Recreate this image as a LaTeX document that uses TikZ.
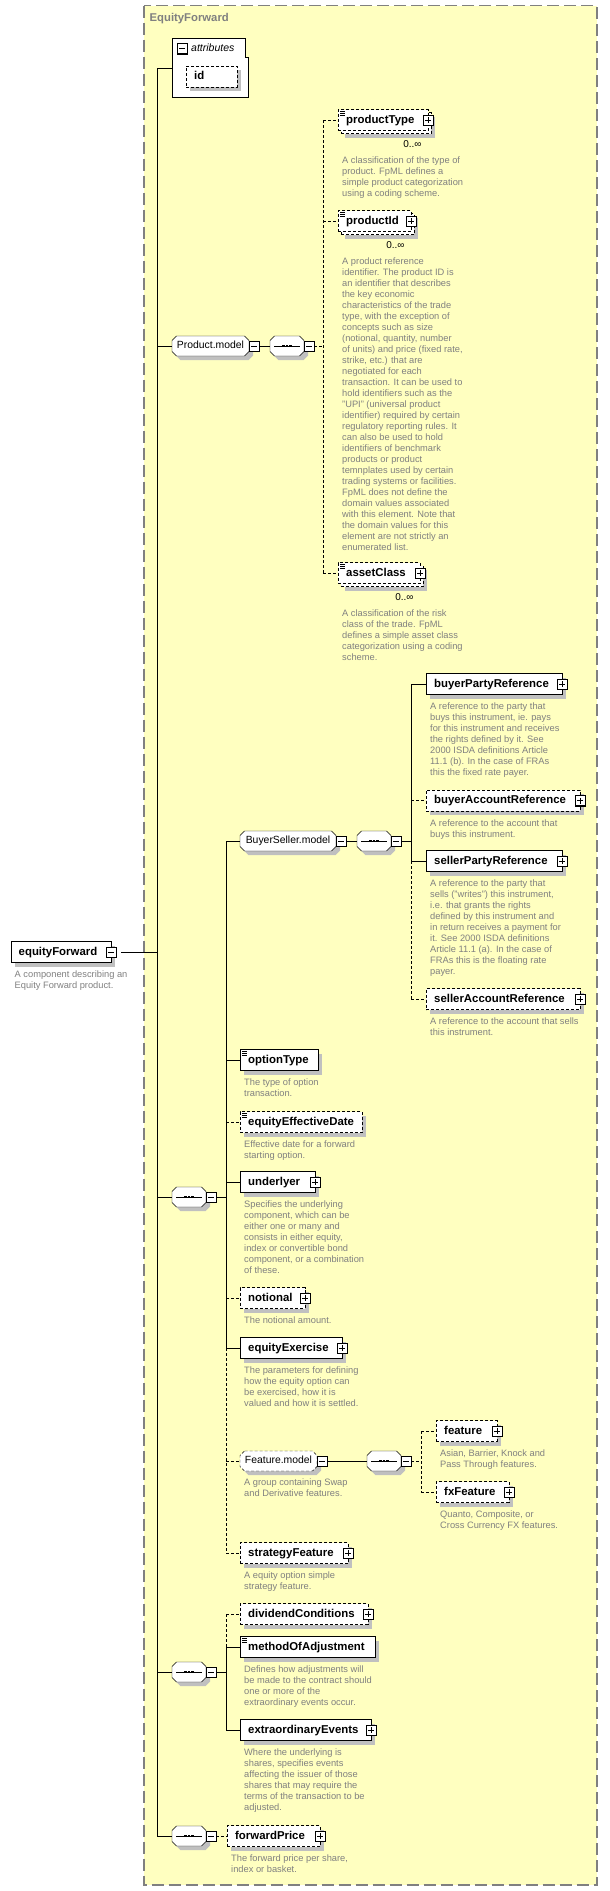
\documentclass[tikz,border=0pt]{standalone}
\usepackage{fontspec}
\setmainfont{Liberation Sans}
\usetikzlibrary{shadows}

\definecolor{bgyellow}{RGB}{255,255,192}
\definecolor{framegray}{RGB}{128,128,128}
\definecolor{shadowgray}{RGB}{192,192,192}
\definecolor{descgray}{RGB}{128,128,128}

\pgfdeclarelayer{back}
\pgfdeclarelayer{shapes}
\pgfsetlayers{back,shapes,main}

\tikzset{
	opt/.style={dash pattern=on 3pt off 2pt},
	shade4/.style={drop shadow={shadow xshift=4pt,shadow yshift=-4pt,fill=shadowgray,opacity=1}},
	multi/.style={drop shadow={shadow xshift=7pt,shadow yshift=-7pt,fill=shadowgray,opacity=1},
		general shadow={shadow xshift=3pt,shadow yshift=-3pt,fill=white,draw=black,dash pattern=on 3pt off 2pt}},
	ebase/.style={draw, fill=white, anchor=west, minimum height=21pt, inner xsep=8pt, inner ysep=0pt,
		text width=#1, align=left, text height=8.5pt, text depth=2.5pt,
		font=\bfseries\fontsize{11.4}{13}\selectfont},
	elem/.style={ebase=#1, shade4},
	melem/.style={ebase=#1, multi},
	simple/.style={path picture={
		\foreach \k in {2,4,6} \draw[solid,line width=0.6pt] ([shift={(2,\k)}]path picture bounding box.north west) -- ++(5,0);}},
	model/.style={anchor=west, minimum width=#1, minimum height=20pt, inner sep=0pt, outer sep=0pt,
		text height=7.5pt, text depth=2pt, font=\fontsize{10.4}{12}\selectfont},
	seq/.style={model=34pt},
	desc/.style={anchor=north west, align=left, inner sep=0pt, text=descgray, font=\fontsize{9.3}{11}\selectfont},
	card/.style={inner sep=0pt, font=\fontsize{10}{12}\selectfont},
	pics/plusbox/.style={code={
		\draw[solid,fill=white] (-5,-5) rectangle (5,5);
		\draw[solid,line width=1.3pt] (5.4,-5) -- (5.4,5.4) -- (-5,5.4);
		\draw[solid] (-3,0) -- (3,0) (0,-3) -- (0,3);}},
	pics/minusbox/.style={code={
		\draw[solid,fill=white] (-5,-5) rectangle (5,5);
		\draw[solid,line width=1.3pt] (5.4,-5) -- (5.4,5.4) -- (-5,5.4);
		\draw[solid] (-3,0) -- (3,0);}}
}

\newcommand{\chambox}[2][]{%
	\begin{pgfonlayer}{shapes}
		\draw[fill=white, shade4, #1] ([xshift=4.5pt]#2.north west) -- ([xshift=-4.5pt]#2.north east)
			-- ([yshift=-4.5pt]#2.north east) -- ([yshift=4.5pt]#2.south east) -- ([xshift=-4.5pt]#2.south east)
			-- ([xshift=4.5pt]#2.south west) -- ([yshift=4.5pt]#2.south west) -- ([yshift=-4.5pt]#2.north west) -- cycle;
	\end{pgfonlayer}}
\newcommand{\seqbar}[1]{%
	\draw ([xshift=4pt]#1.west) -- ([xshift=-4pt]#1.east);
	\foreach \d in {-3.5,0,3.5} \fill ([xshift=\d pt]#1.center) +(-1.2,-1.2) rectangle +(1.2,1.2);}

\begin{document}
\begin{tikzpicture}[x=1pt,y=-1pt,line width=0.9pt]
	\useasboundingbox (0,0) rectangle (610,1891);
	
	\begin{pgfonlayer}{back}
		\draw[framegray, fill=bgyellow, line width=1.2pt, dash pattern=on 12pt off 5pt] (144,5.5) rectangle (597,1885);
	\end{pgfonlayer}
	\node[anchor=west, inner sep=0pt, text=framegray, font=\bfseries\fontsize{11.3}{13}\selectfont] (title) at (149.5,19) {EquityForward};
	
	\draw[fill=white] (172,38) -- (245,38) -- (245,57) -- (248,57) -- (248,97) -- (172,97) -- cycle;
	\pic at (182,48.5) {minusbox};
	\node[anchor=west, inner sep=0pt, font=\itshape\fontsize{10.5}{12}\selectfont] (attrlabel) at (191,48) {attributes};
	\node[elem=35pt, opt] (id) at (186,76.5) {id};
	\coordinate (attrs) at (172,68);
	\coordinate (trunk) at (157,0);
	
	\node[elem=84.5pt] (ef) at (10.5,952) {equityForward}; \pic at (ef.east) {minusbox};
	\node[desc] (efdesc) at ([xshift=4pt,yshift=-8pt]ef.south west) {A component describing an\\Equity Forward product.};
	
	\node[model=77pt] (pmodel) at (172,346) {Product.model}; \chambox{pmodel}; \pic at ([xshift=5pt]pmodel.east) {minusbox};
	\node[seq] (seqP) at (270,346) {}; \chambox{seqP}; \seqbar{seqP}; \pic at ([xshift=5pt]seqP.east) {minusbox};
	
	\node[melem=74pt, opt, simple] (ptype) at (338,120) {productType}; \pic at (ptype.east) {plusbox};
	\node[card] (ptypecard) at ([xshift=-16pt,yshift=-13.5pt]ptype.south east) {0..∞};
	\node[desc] (ptypedesc) at ([xshift=4pt,yshift=-25.5pt]ptype.south west) {A classification of the type of\\product. FpML defines a\\simple product categorization\\using a coding scheme.};
	
	\node[melem=57pt, opt, simple] (pid) at (338,221) {productId}; \pic at (pid.east) {plusbox};
	\node[card] (pidcard) at ([xshift=-16pt,yshift=-13.5pt]pid.south east) {0..∞};
	\node[desc] (piddesc) at ([xshift=4pt,yshift=-25.5pt]pid.south west) {A product reference\\identifier. The product ID is\\an identifier that describes\\the key economic\\characteristics of the trade\\type, with the exception of\\concepts such as size\\(notional, quantity, number\\of units) and price (fixed rate,\\strike, etc.) that are\\negotiated for each\\transaction. It can be used to\\hold identifiers such as the\\"UPI" (universal product\\identifier) required by certain\\regulatory reporting rules. It\\can also be used to hold\\identifiers of benchmark\\products or product\\temnplates used by certain\\trading systems or facilities.\\FpML does not define the\\domain values associated\\with this element. Note that\\the domain values for this\\element are not strictly an\\enumerated list.};
	
	\node[melem=66pt, opt, simple] (aclass) at (338,573) {assetClass}; \pic at (aclass.east) {plusbox};
	\node[card] (aclasscard) at ([xshift=-16pt,yshift=-13.5pt]aclass.south east) {0..∞};
	\node[desc] (aclassdesc) at ([xshift=4pt,yshift=-25.5pt]aclass.south west) {A classification of the risk\\class of the trade. FpML\\defines a simple asset class\\categorization using a coding\\scheme.};
	
	\node[model=96pt] (bsmodel) at (240,841) {BuyerSeller.model}; \chambox{bsmodel}; \pic at ([xshift=5pt]bsmodel.east) {minusbox};
	\node[seq] (seqBS) at (357,841) {}; \chambox{seqBS}; \seqbar{seqBS}; \pic at ([xshift=5pt]seqBS.east) {minusbox};
	
	\node[elem=120pt] (bpr) at (426,684) {buyerPartyReference}; \pic at (bpr.east) {plusbox};
	\node[desc] (bprdesc) at ([xshift=4pt,yshift=-8pt]bpr.south west) {A reference to the party that\\buys this instrument, ie. pays\\for this instrument and receives\\the rights defined by it. See\\2000 ISDA definitions Article\\11.1 (b). In the case of FRAs\\this the fixed rate payer.};
	
	\node[elem=138pt, opt] (bar) at (426,800.5) {buyerAccountReference}; \pic at (bar.east) {plusbox};
	\node[desc] (bardesc) at ([xshift=4pt,yshift=-8pt]bar.south west) {A reference to the account that\\buys this instrument.};
	
	\node[elem=120pt] (spr) at (426,861) {sellerPartyReference}; \pic at (spr.east) {plusbox};
	\node[desc] (sprdesc) at ([xshift=4pt,yshift=-8pt]spr.south west) {A reference to the party that\\sells ("writes") this instrument,\\i.e. that grants the rights\\defined by this instrument and\\in return receives a payment for\\it. See 2000 ISDA definitions\\Article 11.1 (a). In the case of\\FRAs this is the floating rate\\payer.};
	
	\node[elem=138pt, opt] (sar) at (426,999) {sellerAccountReference}; \pic at (sar.east) {plusbox};
	\node[desc] (sardesc) at ([xshift=4pt,yshift=-8pt]sar.south west) {A reference to the account that sells\\this instrument.};
	
	\node[seq] (seq2) at (172,1197) {}; \chambox{seq2}; \seqbar{seq2}; \pic at ([xshift=5pt]seq2.east) {minusbox};
	
	\node[elem=62pt, simple] (otype) at (240,1060) {optionType};
	\node[desc] (otypedesc) at ([xshift=4pt,yshift=-8pt]otype.south west) {The type of option\\transaction.};
	
	\node[elem=106pt, opt, simple] (eed) at (240,1122) {equityEffectiveDate};
	\node[desc] (eeddesc) at ([xshift=4pt,yshift=-8pt]eed.south west) {Effective date for a forward\\starting option.};
	
	\node[elem=58.5pt] (und) at (240,1182) {underlyer}; \pic at (und.east) {plusbox};
	\node[desc] (unddesc) at ([xshift=4pt,yshift=-8pt]und.south west) {Specifies the underlying\\component, which can be\\either one or many and\\consists in either equity,\\index or convertible bond\\component, or a combination\\of these.};
	
	\node[elem=48.5pt, opt] (notl) at (240,1298) {notional}; \pic at (notl.east) {plusbox};
	\node[desc] (notldesc) at ([xshift=4pt,yshift=-8pt]notl.south west) {The notional amount.};
	
	\node[elem=85.5pt] (eex) at (240,1348) {equityExercise}; \pic at (eex.east) {plusbox};
	\node[desc] (eexdesc) at ([xshift=4pt,yshift=-8pt]eex.south west) {The parameters for defining\\how the equity option can\\be exercised, how it is\\valued and how it is settled.};
	
	\node[model=77pt] (fmodel) at (240,1461) {Feature.model}; \chambox[opt]{fmodel}; \pic at ([xshift=5pt]fmodel.east) {minusbox};
	\node[desc] (fmodeldesc) at ([xshift=4pt,yshift=-8pt]fmodel.south west) {A group containing Swap\\and Derivative features.};
	\node[seq] (seqF) at (367,1461) {}; \chambox{seqF}; \seqbar{seqF}; \pic at ([xshift=5pt]seqF.east) {minusbox};
	
	\node[elem=44.5pt, opt] (feat) at (436,1431) {feature}; \pic at (feat.east) {plusbox};
	\node[desc] (featdesc) at ([xshift=4pt,yshift=-8pt]feat.south west) {Asian, Barrier, Knock and\\Pass Through features.};
	
	\node[elem=56.5pt, opt] (fxf) at (436,1492) {fxFeature}; \pic at (fxf.east) {plusbox};
	\node[desc] (fxfdesc) at ([xshift=4pt,yshift=-8pt]fxf.south west) {Quanto, Composite, or\\Cross Currency FX features.};
	
	\node[elem=92pt, opt] (stf) at (240,1553) {strategyFeature}; \pic at (stf.east) {plusbox};
	\node[desc] (stfdesc) at ([xshift=4pt,yshift=-8pt]stf.south west) {A equity option simple\\strategy feature.};
	
	\node[seq] (seq3) at (172,1672) {}; \chambox{seq3}; \seqbar{seq3}; \pic at ([xshift=5pt]seq3.east) {minusbox};
	
	\node[elem=111.5pt, opt] (divc) at (240,1614) {dividendConditions}; \pic at (divc.east) {plusbox};
	
	\node[elem=119pt, simple] (moa) at (240,1647) {methodOfAdjustment};
	\node[desc] (moadesc) at ([xshift=4pt,yshift=-8pt]moa.south west) {Defines how adjustments will\\be made to the contract should\\one or more of the\\extraordinary events occur.};
	
	\node[elem=115pt] (exev) at (240,1730) {extraordinaryEvents}; \pic at (exev.east) {plusbox};
	\node[desc] (exevdesc) at ([xshift=4pt,yshift=-8pt]exev.south west) {Where the underlying is\\shares, specifies events\\affecting the issuer of those\\shares that may require the\\terms of the transaction to be\\adjusted.};
	
	\node[seq] (seq4) at (172,1836) {}; \chambox{seq4}; \seqbar{seq4}; \pic at ([xshift=5pt]seq4.east) {minusbox};
	
	\node[elem=77pt, opt] (fwdp) at (227,1836) {forwardPrice}; \pic at (fwdp.east) {plusbox};
	\node[desc] (fwdpdesc) at ([xshift=4pt,yshift=-8pt]fwdp.south west) {The forward price per share,\\index or basket.};
	
	\draw (attrs) -| (seq4.west -| trunk) -- (seq4.west);
	\draw ([xshift=10pt]ef.east) -- (ef.east -| trunk);
	\foreach \n in {pmodel,seq2,seq3} \draw (\n.west -| trunk) -- (\n.west);
	
	\coordinate (pbus) at (323,0);
	\draw ([xshift=10pt]pmodel.east) -- (seqP.west);
	\draw[opt] ([xshift=10pt]seqP.east) -- (seqP.east -| pbus);
	\draw[opt] (ptype.west -| pbus) -- (aclass.west -| pbus);
	\foreach \n in {ptype,pid,aclass} \draw[opt] (\n.west -| pbus) -- (\n.west);
	
	\coordinate (bbus) at (226,0);
	\draw ([xshift=10pt]seq2.east) -- (seq2.east -| bbus);
	\draw (bsmodel.west -| bbus) -- (eex.west -| bbus);
	\draw[opt] (eex.west -| bbus) -- (stf.west -| bbus);
	\foreach \n in {bsmodel,otype,und,eex} \draw (\n.west -| bbus) -- (\n.west);
	\foreach \n in {eed,notl,fmodel,stf} \draw[opt] (\n.west -| bbus) -- (\n.west);
	
	\coordinate (sbus) at (411,0);
	\draw ([xshift=10pt]bsmodel.east) -- (seqBS.west);
	\draw ([xshift=10pt]seqBS.east) -- (seqBS.east -| sbus);
	\draw (bpr.west -| sbus) -- (spr.west -| sbus);
	\draw[opt] (spr.west -| sbus) -- (sar.west -| sbus);
	\foreach \n in {bpr,spr} \draw (\n.west -| sbus) -- (\n.west);
	\foreach \n in {bar,sar} \draw[opt] (\n.west -| sbus) -- (\n.west);
	
	\coordinate (fbus) at (421,0);
	\draw ([xshift=10pt]fmodel.east) -- (seqF.west);
	\draw[opt] ([xshift=10pt]seqF.east) -- (seqF.east -| fbus);
	\draw[opt] (feat.west -| fbus) -- (fxf.west -| fbus);
	\foreach \n in {feat,fxf} \draw[opt] (\n.west -| fbus) -- (\n.west);
	
	\draw ([xshift=10pt]seq3.east) -- (seq3.east -| bbus);
	\draw[opt] (divc.west -| bbus) -- (moa.west -| bbus);
	\draw (moa.west -| bbus) -- (exev.west -| bbus);
	\draw[opt] (divc.west -| bbus) -- (divc.west);
	\foreach \n in {moa,exev} \draw (\n.west -| bbus) -- (\n.west);
	
	\draw[opt] ([xshift=10pt]seq4.east) -- (fwdp.west);
	
\end{tikzpicture}
\end{document}
